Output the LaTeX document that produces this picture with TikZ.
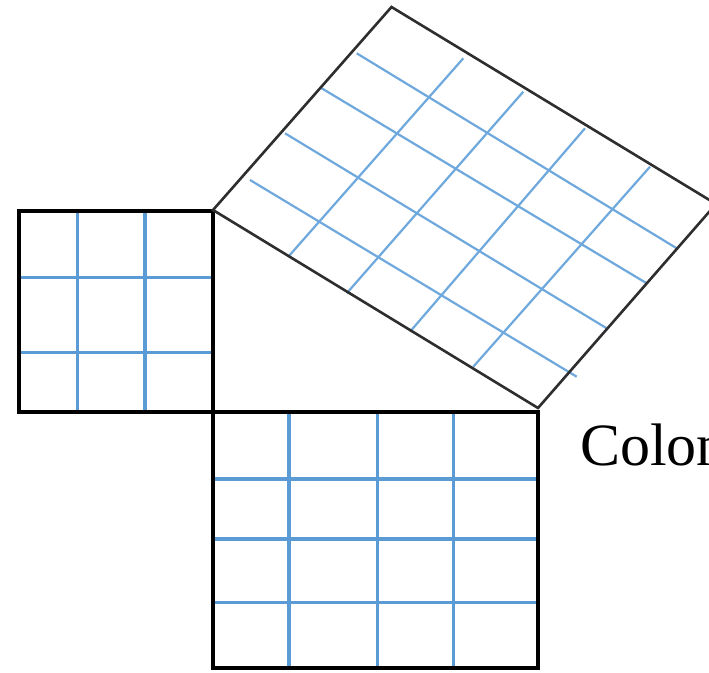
\documentclass[tikz,border=0pt]{standalone}
\usepackage{fontspec}
\setmainfont{Liberation Serif}
\definecolor{gridblue}{HTML}{5B9BD5}
\definecolor{rgridblue}{HTML}{6EA8DC}
\begin{document}
\begin{tikzpicture}[x=1pt,y=-1pt,
  frame/.style={line width=4pt,black,line join=miter},
  rframe/.style={line width=2.6pt,black!82,line join=miter},
  sgrid/.style={line width=3.2pt,gridblue},
  rgrid/.style={line width=2.2pt,rgridblue}]
\useasboundingbox (0,0) rectangle (709,672);
\clip (0,0) rectangle (709,672);
% left square (3x3)
\draw[sgrid] (77.5,211) -- (77.5,411.5);
\draw[sgrid] (145,211) -- (145,411.5);
\draw[sgrid] (18.5,277.5) -- (213,277.5);
\draw[sgrid] (18.5,352.5) -- (213,352.5);
\draw[frame] (18.5,211) rectangle (213,411.5);
% bottom square (4x4)
\draw[sgrid] (289,411.5) -- (289,668);
\draw[sgrid] (377.5,411.5) -- (377.5,668);
\draw[sgrid] (453.5,411.5) -- (453.5,668);
\draw[sgrid] (213,479) -- (537.5,479);
\draw[sgrid] (213,539) -- (537.5,539);
\draw[sgrid] (213,602.5) -- (537.5,602.5);
\draw[frame] (213,411.5) rectangle (537.5,668);
% rotated square (5x5)
\draw[rgrid] (356.7,53.3) -- (676.7,248.3);
\draw[rgrid] (321.7,88.3) -- (646.7,283.3);
\draw[rgrid] (285,133.3) -- (606.7,328.3);
\draw[rgrid] (250,180) -- (576.7,376.7);
\draw[rgrid] (288.3,256.7) -- (463.3,58.3);
\draw[rgrid] (346.7,293.3) -- (523.3,91.7);
\draw[rgrid] (410,331.7) -- (585,128.3);
\draw[rgrid] (473.3,366.7) -- (650,166.7);
\draw[rframe] (213,210) -- (391.5,7) -- (716,204) -- (538,408) -- cycle;
% label
\node[anchor=base west,inner sep=0pt] (lbl) at (580,465) {\fontsize{60}{72}\selectfont Colon};
\end{tikzpicture}
\end{document}
